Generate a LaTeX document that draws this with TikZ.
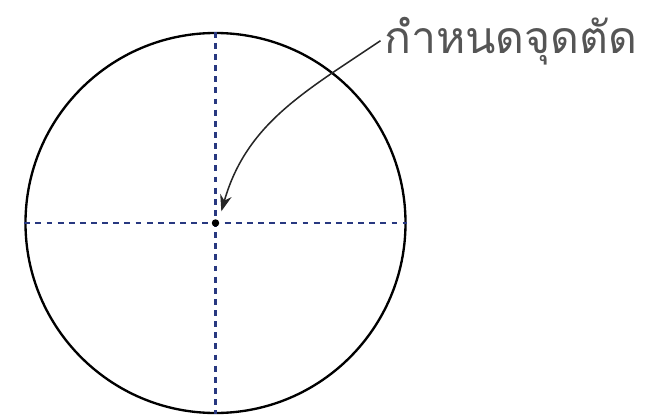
\documentclass[tikz,border=0pt]{standalone}
\usepackage{fontspec}
\newfontfamily\thaifont[Script=Thai]{Loma}
\usetikzlibrary{positioning,arrows.meta,calc}
\definecolor{axisblue}{RGB}{40,56,128}
\definecolor{labelgray}{RGB}{85,85,85}

\begin{document}
\begin{tikzpicture}[
  x=0.03cm, y=-0.03cm,
  rim/.style={circle, draw=black, line width=2pt, minimum size=11.4cm, inner sep=0pt},
  axis/.style={draw=axisblue, line width=1.8pt, dash pattern=on 5pt off 4.5pt},
  callout/.style={draw=black!85, line width=1.3pt, -{Stealth[length=14pt, width=10pt]}},
  tag/.style={font=\thaifont\fontsize{38}{40}\selectfont, text=labelgray, inner sep=0pt, anchor=base west}
]
% page frame 661 x 418
\useasboundingbox (0,0) rectangle (661,418);

% circle and its two axes
\node[rim] (rim) at (215.5,223) {};
\draw[axis] (rim.north) -- (rim.south);
\draw[axis] (rim.west) -- (rim.east);

% intersection point
\coordinate (cut) at (215.5,223);
\fill (cut) circle (3.2pt);

% label and pointer
\node[tag] (label) at (384,53) {กำหนดจุดตัด};
\draw[callout] ([xshift=-3pt]label.west) to[out=-146, in=74] ([xshift=5pt, yshift=10pt]cut);
\end{tikzpicture}
\end{document}
